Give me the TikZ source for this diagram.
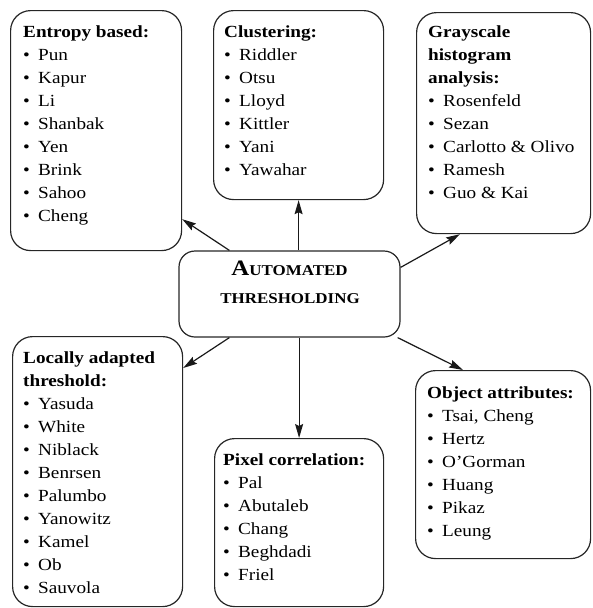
\documentclass[tikz,border=0pt]{standalone}
\usepackage{fontspec}
\setmainfont{Liberation Serif}[FakeStretch=1.13]
\usetikzlibrary{arrows.meta,calc}
\newcommand\hd[1]{\noindent\textbf{#1}}
\newcommand\bul[1]{\par\noindent\makebox[15pt][l]{\textbullet}#1}
\newcommand\boxtext[1]{\parbox[t]{170pt}{\fontsize{17}{23}\selectfont\raggedright #1}}
\tikzset{
  box/.style={draw=black!85, line width=1.2pt, rounded corners=20pt, inner sep=0pt, anchor=north west, fill=none},
  txt/.style={inner sep=0pt, anchor=base west},
  arr/.style={line width=1.2pt, draw=black!90, -{Stealth[length=14pt,width=8pt,inset=2pt]}},
}
\begin{document}
\begin{tikzpicture}[x=1pt,y=-1pt]
\useasboundingbox (0,0) rectangle (592,608);
% boxes
\node[box, minimum width=171pt, minimum height=240pt] (ent) at (10,10) {};
\node[box, minimum width=170pt, minimum height=189pt] (clu) at (213,10) {};
\node[box, minimum width=174pt, minimum height=221pt] (gray) at (416,12) {};
\node[box, minimum width=170pt, minimum height=270pt] (loc) at (12,336) {};
\node[box, minimum width=169pt, minimum height=168pt] (pix) at (214,438) {};
\node[box, minimum width=175pt, minimum height=188pt] (obj) at (415,370) {};
\node[draw=black!85, line width=1.2pt, rounded corners=16pt, inner sep=0pt,
      minimum width=221pt, minimum height=86pt] (cen) at (289.5,294) {};
\node[inner sep=0pt, anchor=base, font=\bfseries] (cenA) at (289.5,275)
  {{\fontsize{22}{26}\selectfont A}{\fontsize{15}{20}\selectfont UTOMATED}};
\node[inner sep=0pt, anchor=base, font=\bfseries] (cenB) at (290,303)
  {\fontsize{15}{20}\selectfont THRESHOLDING};
% texts
\node[txt] (entT) at (23,37) {\boxtext{\hd{Entropy based:}\bul{Pun}\bul{Kapur}\bul{Li}\bul{Shanbak}\bul{Yen}\bul{Brink}\bul{Sahoo}\bul{Cheng}}};
\node[txt] (cluT) at (224,37) {\boxtext{\hd{Clustering:}\bul{Riddler}\bul{Otsu}\bul{Lloyd}\bul{Kittler}\bul{Yani}\bul{Yawahar}}};
\node[txt] (grayT) at (428,37) {\boxtext{\hd{Grayscale}\par\hd{histogram}\par\hd{analysis:}\bul{Rosenfeld}\bul{Sezan}\bul{Carlotto \& Olivo}\bul{Ramesh}\bul{Guo \& Kai}}};
\node[txt] (locT) at (23,363) {\boxtext{\hd{Locally adapted}\par\hd{threshold:}\bul{Yasuda}\bul{White}\bul{Niblack}\bul{Benrsen}\bul{Palumbo}\bul{Yanowitz}\bul{Kamel}\bul{Ob}\bul{Sauvola}}};
\node[txt] (pixT) at (223,465) {\boxtext{\hd{Pixel correlation:}\bul{Pal}\bul{Abutaleb}\bul{Chang}\bul{Beghdadi}\bul{Friel}}};
\node[txt] (objT) at (427,398) {\boxtext{\hd{Object attributes:}\bul{Tsai, Cheng}\bul{Hertz}\bul{O'Gorman}\bul{Huang}\bul{Pikaz}\bul{Leung}}};
% arrows
\draw[arr] ([xshift=51pt]cen.north west) -- ([yshift=32pt]ent.south east);
\draw[arr] (clu.south |- cen.north) -- (clu.south);
\draw[arr] ([yshift=-17pt]cen.north east) -- ([xshift=44pt]gray.south west);
\draw[arr] ([xshift=51pt]cen.south west) -- ([yshift=-32pt]loc.north east);
\draw[arr] (pix.north |- cen.south) -- (pix.north);
\draw[arr] ([xshift=-3pt]cen.south east) -- ([xshift=48pt]obj.north west);
\end{tikzpicture}
\end{document}
